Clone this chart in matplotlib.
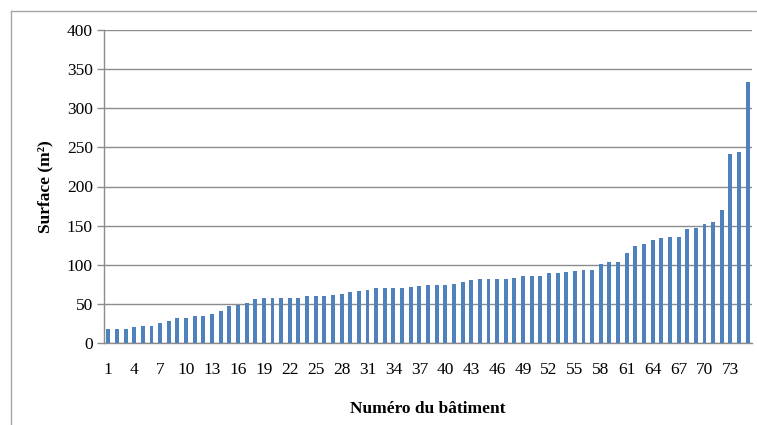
import numpy as np
import matplotlib
matplotlib.use("Agg")
import matplotlib.pyplot as plt
from matplotlib.lines import Line2D

# ── data ─────────────────────────────────────────────────────────────────────
batiments = list(range(1, 76))
surfaces = [
    18, 18, 18, 20, 22, 22, 25, 28, 32, 32,
    35, 35, 37, 41, 47, 49, 51, 56, 57, 57,
    58, 58, 58, 60, 60, 60, 61, 63, 65, 66,
    68, 70, 70, 70, 70, 72, 73, 74, 74, 74,
    76, 78, 80, 82, 82, 82, 82, 83, 85, 85,
    86, 89, 89, 91, 92, 93, 93, 101, 103, 103,
    115, 124, 127, 131, 134, 136, 136, 146, 147, 152,
    155, 170, 241, 244, 334,
]
tick_labels = [str(b) for b in batiments[::3]]

BAR_COLOR = "#4F81BD"
GRID_COLOR = "#8c8c8c"
SERIF = ["Liberation Serif", "DejaVu Serif"]
FS = 12.5

fig = plt.figure(figsize=(7.57, 4.25), dpi=100)
ax = fig.add_axes([104 / 757, 1 - 343 / 425, 648 / 757, 313 / 425])

x = np.arange(len(surfaces))
ax.bar(x, surfaces, width=0.45, color=BAR_COLOR, zorder=3)

ax.set_xlim(-0.5, len(surfaces) - 0.5)
ax.set_ylim(0, 400)
ax.set_yticks(range(0, 401, 50))
ax.set_xticks(x[::3])
ax.set_xticklabels(tick_labels)
ax.yaxis.grid(True, color=GRID_COLOR, linewidth=1.0, zorder=0)
ax.set_axisbelow(True)

for s in ["top", "right"]:
    ax.spines[s].set_visible(False)
for s in ["left", "bottom"]:
    ax.spines[s].set_color(GRID_COLOR)
    ax.spines[s].set_linewidth(1.0)

ax.tick_params(axis="y", length=5, width=1.0, color=GRID_COLOR, pad=3)
ax.tick_params(axis="x", length=0, pad=14)
for lab in ax.get_xticklabels() + ax.get_yticklabels():
    lab.set_family(SERIF)
    lab.set_fontsize(FS)
    lab.set_color("black")

ax.set_xlabel("Numéro du bâtiment", family=SERIF, fontsize=FS,
              fontweight="bold", labelpad=16)
ax.set_ylabel("Surface (m²)", family=SERIF, fontsize=FS,
              fontweight="bold", labelpad=10)

# chart frame
fig.add_artist(Line2D([11 / 757, 11 / 757], [0, 1 - 11 / 425],
                      transform=fig.transFigure, color="#a6a6a6", linewidth=1.0))
fig.add_artist(Line2D([11 / 757, 1], [1 - 11 / 425, 1 - 11 / 425],
                      transform=fig.transFigure, color="#a6a6a6", linewidth=1.0))

fig.savefig("out.png", dpi=100)
plt.close(fig)
